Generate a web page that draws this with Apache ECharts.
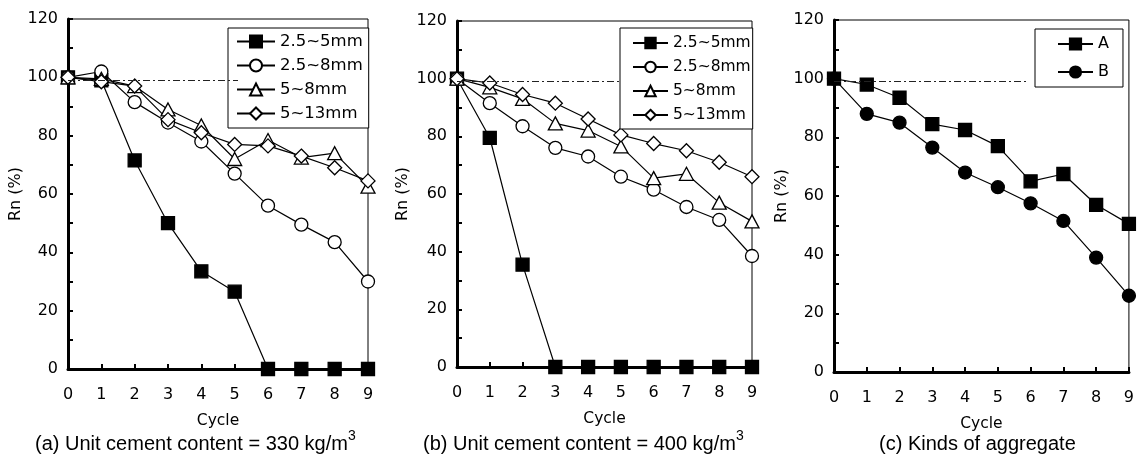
<!DOCTYPE html>
<html>
<head>
<meta charset="utf-8">
<title>Rn vs Cycle</title>
<script src="https://cdn.jsdelivr.net/npm/echarts@6/dist/echarts.min.js"></script>
<style>
  html, body { margin: 0; padding: 0; background: #fff; }
  #chart { width: 1137px; height: 461px; }
</style>
</head>
<body>
<div id="chart"></div>
<script>
// Freeze-thaw cycles (x values shared by every panel)
const cycles = [0, 1, 2, 3, 4, 5, 6, 7, 8, 9];

// Aggregate size groups for panels (a) and (b)
const sizeNames = ['2.5~5mm', '2.5~8mm', '5~8mm', '5~13mm'];

// (a) Unit cement content = 330 kg/m3 — relative dynamic modulus Rn (%)
const a_2_5to5  = [100, 99, 71.5, 50, 33.5, 26.5, 0, 0, 0, 0];
const a_2_5to8  = [100, 102, 91.5, 84.5, 78, 67, 56, 49.5, 43.5, 30];
const a_5to8    = [100, 99.5, 97, 89, 83.5, 72, 78.5, 72.5, 74, 62.5];
const a_5to13   = [100, 98.5, 97, 85.5, 81, 77, 76.5, 73, 69, 64.5];

// (b) Unit cement content = 400 kg/m3
const b_2_5to5  = [100, 79.5, 35.5, 0, 0, 0, 0, 0, 0, 0];
const b_2_5to8  = [100, 91.5, 83.5, 76, 73, 66, 61.5, 55.5, 51, 38.5];
const b_5to8    = [100, 97, 93, 84.5, 82, 76.5, 65.5, 67, 57, 50.5];
const b_5to13   = [100, 98.5, 94.5, 91.5, 86, 80.5, 77.5, 75, 71, 66];

// (c) Kinds of aggregate
const kindNames = ['A', 'B'];
const c_A = [100, 98, 93.5, 84.5, 82.5, 77, 65, 67.5, 57, 50.5];
const c_B = [100, 88, 85, 76.5, 68, 63, 57.5, 51.5, 39, 26];

// Reference level and where each dash-dot line stops (cycle units)
const refLevel = 99;
const refEnds = [5.1, 5.0, 5.95];

// Panel captions
const captions = [
  '(a) Unit cement content = 330 kg/m{sup|3}',
  '(b) Unit cement content = 400 kg/m{sup|3}',
  '(c) Kinds of aggregate'
];

const FONT = 'DejaVu Sans';
const CAPFONT = 'Liberation Sans, Arial, sans-serif';
const pairs = arr => cycles.map((c, i) => [c, arr[i]]);

const gridBoxes = [
  { left: 68,  top: 19, width: 300, height: 350 },
  { left: 457, top: 21, width: 295, height: 346 },
  { left: 834, top: 20, width: 300, height: 352 }
];
const yNameGaps = [35, 46, 40];

const chart = echarts.init(document.getElementById('chart'), null, { renderer: 'canvas' });

const grids = gridBoxes.map(g => Object.assign({
  show: true, borderColor: '#000', borderWidth: 1, backgroundColor: 'transparent'
}, g));

const xAxes = gridBoxes.map((g, i) => ({
  gridIndex: i, type: 'value', min: 0, max: 9, interval: 1,
  name: 'Cycle', nameLocation: 'middle', nameGap: 44,
  nameTextStyle: { fontFamily: FONT, fontSize: 15.5, color: '#000' },
  axisLine: { show: true, onZero: false, lineStyle: { color: '#000', width: 3 } },
  axisTick: { show: true, inside: true, length: 5, lineStyle: { color: '#000', width: 2 } },
  axisLabel: { fontFamily: FONT, fontSize: 16, color: '#000', margin: 18 },
  splitLine: { show: false }
}));

const yAxes = gridBoxes.map((g, i) => ({
  gridIndex: i, type: 'value', min: 0, max: 120, interval: 20,
  name: 'Rn (%)', nameLocation: 'middle', nameGap: yNameGaps[i], nameRotate: 90,
  nameTextStyle: { fontFamily: FONT, fontSize: 16, color: '#000' },
  axisLine: { show: true, onZero: false, lineStyle: { color: '#000', width: 3 } },
  axisTick: { show: true, inside: true, length: 5, lineStyle: { color: '#000', width: 2 } },
  minorTick: { show: true, splitNumber: 2, length: 5, lineStyle: { color: '#000', width: 2 } },
  axisLabel: { fontFamily: FONT, fontSize: 16, color: '#000', margin: 10 },
  splitLine: { show: false }
}));

// Marker styles: filled square, open circle, open triangle, open diamond
const markerSpecs = [
  { symbol: 'rect',     symbolSize: 13,       fill: '#000' },
  { symbol: 'circle',   symbolSize: 13,       fill: '#fff' },
  { symbol: 'triangle', symbolSize: [14, 13], fill: '#fff' },
  { symbol: 'diamond',  symbolSize: 14,       fill: '#fff' }
];
const kindSpecs = [
  { symbol: 'rect',   symbolSize: 13, fill: '#000' },
  { symbol: 'circle', symbolSize: 13, fill: '#000' }
];

function lineSeries(name, data, spec, idx) {
  return {
    type: 'line', name, data: pairs(data),
    xAxisIndex: idx, yAxisIndex: idx,
    symbol: spec.symbol, symbolSize: spec.symbolSize,
    showAllSymbol: true, clip: false, animation: false,
    lineStyle: { color: '#000', width: 1.2 },
    itemStyle: { color: spec.fill, borderColor: '#000', borderWidth: 1.3 },
    emphasis: { disabled: true }
  };
}

function refLine(idx) {
  return {
    type: 'line', name: 'ref' + idx, data: [],
    xAxisIndex: idx, yAxisIndex: idx, silent: true, animation: false,
    markLine: {
      silent: true, symbol: 'none', label: { show: false },
      lineStyle: { color: '#222', width: 1, type: [7, 3, 2, 3] },
      data: [[{ coord: [0, refLevel] }, { coord: [refEnds[idx], refLevel] }]]
    }
  };
}

const series = [
  refLine(0), refLine(1), refLine(2),
  lineSeries(sizeNames[0], a_2_5to5, markerSpecs[0], 0),
  lineSeries(sizeNames[1], a_2_5to8, markerSpecs[1], 0),
  lineSeries(sizeNames[2], a_5to8,   markerSpecs[2], 0),
  lineSeries(sizeNames[3], a_5to13,  markerSpecs[3], 0),
  lineSeries(sizeNames[0], b_2_5to5, markerSpecs[0], 1),
  lineSeries(sizeNames[1], b_2_5to8, markerSpecs[1], 1),
  lineSeries(sizeNames[2], b_5to8,   markerSpecs[2], 1),
  lineSeries(sizeNames[3], b_5to13,  markerSpecs[3], 1),
  lineSeries(kindNames[0], c_A, kindSpecs[0], 2),
  lineSeries(kindNames[1], c_B, kindSpecs[1], 2)
];

const legendBase = {
  orient: 'vertical', align: 'left', selectedMode: false,
  backgroundColor: '#fff', borderColor: '#000', borderWidth: 1
};

const legends = [
  Object.assign({}, legendBase, {
    left: 228, top: 28, itemWidth: 38, itemHeight: 15, itemGap: 7,
    padding: [5, 6, 6, 8],
    textStyle: { fontFamily: FONT, fontSize: 16.5, color: '#000' },
    data: sizeNames
  }),
  Object.assign({}, legendBase, {
    left: 620, top: 28, itemWidth: 35, itemHeight: 13, itemGap: 8,
    padding: [7, 2, 6, 12],
    textStyle: { fontFamily: FONT, fontSize: 15.5, color: '#000' },
    data: sizeNames
  }),
  Object.assign({}, legendBase, {
    left: 1035, top: 29, itemWidth: 35, itemHeight: 14, itemGap: 12,
    padding: [7, 14, 7, 22],
    textStyle: { fontFamily: FONT, fontSize: 16, color: '#000' },
    data: kindNames
  })
];

const captionLefts = [35, 423, 879];
const titles = captions.map((t, i) => ({
  text: t, left: captionLefts[i], top: 429, padding: 0,
  textStyle: {
    fontFamily: CAPFONT, fontSize: 20, fontWeight: 'normal',
    color: '#000', lineHeight: 30,
    rich: {
      sup: { fontFamily: CAPFONT, fontSize: 14, color: '#000',
             verticalAlign: 'top', lineHeight: 14 }
    }
  }
}));

chart.setOption({
  animation: false,
  title: titles,
  grid: grids,
  xAxis: xAxes,
  yAxis: yAxes,
  legend: legends,
  series
});
</script>
</body>
</html>
